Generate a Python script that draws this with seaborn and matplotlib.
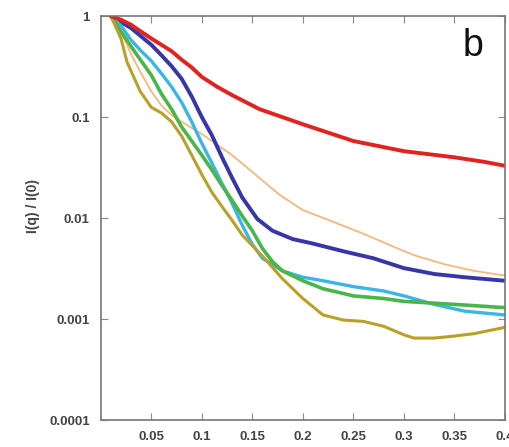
import numpy as np
import pandas as pd
import matplotlib
matplotlib.use("Agg")
import matplotlib.pyplot as plt
import seaborn as sns
from matplotlib.ticker import FixedLocator, FixedFormatter, NullLocator

# values (q, I(q)/I(0))
q_red = [0.01, 0.02, 0.03, 0.04, 0.05, 0.06, 0.07, 0.08, 0.09, 0.1, 0.115, 0.13, 0.157, 0.2, 0.25, 0.3, 0.35, 0.38, 0.4]
i_red = [1.0, 0.92, 0.82, 0.70, 0.60, 0.52, 0.45, 0.37, 0.31, 0.25, 0.20, 0.165, 0.12, 0.085, 0.058, 0.046, 0.040, 0.036, 0.033]

q_blue = [0.01, 0.03, 0.05, 0.06, 0.07, 0.08, 0.09, 0.1, 0.11, 0.12, 0.13, 0.14, 0.155, 0.17, 0.19, 0.21, 0.24, 0.27, 0.3, 0.33, 0.36, 0.4]
i_blue = [1.0, 0.76, 0.52, 0.41, 0.32, 0.24, 0.16, 0.10, 0.066, 0.04, 0.025, 0.016, 0.0098, 0.0075, 0.0062, 0.0056, 0.0047, 0.0040, 0.0032, 0.0028, 0.0026, 0.0024]

q_orange = [0.01, 0.02, 0.03, 0.04, 0.05, 0.06, 0.07, 0.08, 0.1, 0.13, 0.157, 0.177, 0.2, 0.23, 0.26, 0.29, 0.31, 0.34, 0.37, 0.4]
i_orange = [1.0, 0.7, 0.42, 0.27, 0.18, 0.13, 0.105, 0.09, 0.068, 0.042, 0.025, 0.017, 0.012, 0.0092, 0.007, 0.0052, 0.0043, 0.0035, 0.003, 0.0027]

q_cyan = [0.01, 0.02, 0.03, 0.04, 0.05, 0.06, 0.07, 0.08, 0.09, 0.1, 0.11, 0.12, 0.13, 0.14, 0.15, 0.16, 0.18, 0.2, 0.22, 0.25, 0.28, 0.3, 0.33, 0.36, 0.4]
i_cyan = [1.0, 0.8, 0.58, 0.45, 0.36, 0.27, 0.2, 0.14, 0.09, 0.055, 0.035, 0.022, 0.014, 0.0085, 0.0055, 0.004, 0.003, 0.0026, 0.0024, 0.0021, 0.0019, 0.0017, 0.0014, 0.0012, 0.0011]

q_green = [0.01, 0.02, 0.03, 0.04, 0.05, 0.06, 0.07, 0.08, 0.09, 0.1, 0.11, 0.12, 0.13, 0.14, 0.15, 0.16, 0.17, 0.18, 0.2, 0.22, 0.25, 0.28, 0.3, 0.35, 0.4]
i_green = [1.0, 0.7, 0.5, 0.36, 0.26, 0.17, 0.12, 0.08, 0.058, 0.042, 0.03, 0.021, 0.015, 0.0105, 0.0075, 0.005, 0.0037, 0.003, 0.0024, 0.002, 0.0017, 0.0016, 0.0015, 0.0014, 0.0013]

q_olive = [0.01, 0.02, 0.026, 0.039, 0.05, 0.06, 0.07, 0.08, 0.09, 0.1, 0.11, 0.12, 0.13, 0.14, 0.16, 0.18, 0.2, 0.22, 0.24, 0.26, 0.28, 0.3, 0.31, 0.33, 0.35, 0.37, 0.4]
i_olive = [1.0, 0.6, 0.35, 0.18, 0.125, 0.11, 0.09, 0.065, 0.042, 0.027, 0.018, 0.013, 0.0095, 0.0068, 0.0042, 0.0025, 0.0016, 0.0011, 0.00098, 0.00095, 0.00085, 0.0007, 0.00065, 0.00065, 0.00068, 0.00072, 0.00083]

x_ticks = [0.05, 0.1, 0.15, 0.2, 0.25, 0.3, 0.35, 0.4]
x_labels = ["0.05", "0.1", "0.15", "0.2", "0.25", "0.3", "0.35", "0.4"]
y_ticks = [0.0001, 0.001, 0.01, 0.1, 1]
y_labels = ["0.0001", "0.001", "0.01", "0.1", "1"]

series = [
    (q_orange, i_orange, "#f4b87e", 1.3),
    (q_blue, i_blue, "#3636a6", 2.8),
    (q_cyan, i_cyan, "#3bb5e6", 2.4),
    (q_green, i_green, "#4ab548", 2.6),
    (q_olive, i_olive, "#b9a129", 2.2),
    (q_red, i_red, "#e0231f", 2.8),
]

sns.set_theme(style="ticks")
plt.rcParams['font.family'] = ['Liberation Sans', 'DejaVu Sans']

fig = plt.figure(figsize=(5.09, 4.47), dpi=100)
ax = fig.add_axes([0.198, 0.060, 0.794, 0.904])

for q, inten, color, lw in series:
    sns.lineplot(x=q, y=inten, color=color, lw=lw, ax=ax, sort=False)

ax.set_yscale("log")
ax.set_xlim(0, 0.4)
ax.set_ylim(0.0001, 1)

ax.xaxis.set_major_locator(FixedLocator(x_ticks))
ax.xaxis.set_major_formatter(FixedFormatter(x_labels))
ax.yaxis.set_major_locator(FixedLocator(y_ticks))
ax.yaxis.set_major_formatter(FixedFormatter(y_labels))
ax.yaxis.set_minor_locator(NullLocator())

ax.tick_params(axis="both", which="major", direction="in", length=5, width=0.8,
               color="#888888", top=True, right=True, labelsize=9.5, pad=8)
for lab in ax.get_xticklabels() + ax.get_yticklabels():
    lab.set_fontweight("bold")
    lab.set_color("#444444")
for s in ax.spines.values():
    s.set_color("#777777")
    s.set_linewidth(1.2)

ax.set_xlabel("")
ax.set_ylabel("I(q) / I(0)", fontsize=10, fontweight="bold", color="#444444")
ax.yaxis.set_label_coords(-0.15, 0.53)
ax.text(0.92, 0.925, "b", transform=ax.transAxes, fontsize=27, ha="center", va="center", color="#111111")

fig.savefig("out.png", dpi=100)
